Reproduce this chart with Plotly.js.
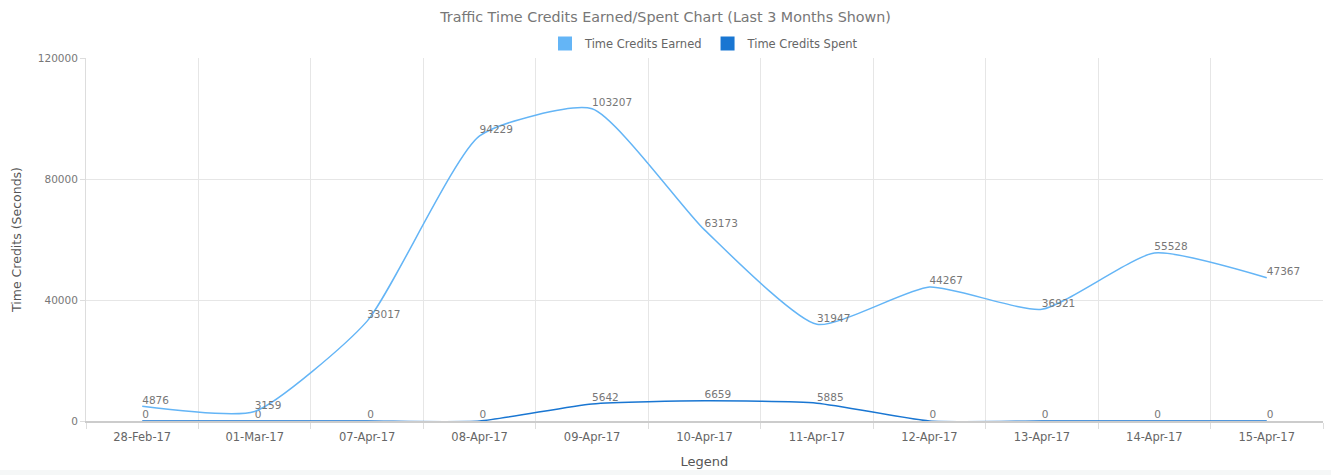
<!DOCTYPE html>
<html>
<head>
<meta charset="utf-8">
<script src="https://cdn.plot.ly/plotly-3.0.1.min.js"></script>
<style>
  html, body { margin: 0; padding: 0; background: #f5f7f7; }
  #chart { width: 1331px; height: 470px; background: #fff; }
</style>
</head>
<body>
<div id="chart"></div>
<script>
// Chart data
const dates = ['28-Feb-17', '01-Mar-17', '07-Apr-17', '08-Apr-17', '09-Apr-17', '10-Apr-17',
               '11-Apr-17', '12-Apr-17', '13-Apr-17', '14-Apr-17', '15-Apr-17'];
const earned = [4876, 3159, 33017, 94229, 103207, 63173, 31947, 44267, 36921, 55528, 47367];
const spent = [0, 0, 0, 0, 5642, 6659, 5885, 0, 0, 0, 0];

const earnedColor = '#64b5f6';
const spentColor = '#1976d2';
const font = 'DejaVu Sans, Verdana, sans-serif';

function lineTrace(values, color, name) {
    return {
        x: dates,
        y: values,
        type: 'scatter',
        mode: 'lines+text',
        name: name,
        showlegend: false,
        text: values.map(String),
        textposition: 'top right',
        textfont: { family: font, size: 10.5, color: '#777' },
        line: { color: color, width: 1.5, shape: 'spline', smoothing: 0.55 },
        cliponaxis: false,
        hoverinfo: 'x+y+name'
    };
}

// legend-only proxies so the legend shows square swatches
function legendTrace(color, name) {
    return {
        x: [null],
        y: [null],
        type: 'scatter',
        mode: 'markers',
        name: name,
        marker: { symbol: 'square', size: 14, color: color },
        hoverinfo: 'skip'
    };
}

const data = [
    lineTrace(spent, spentColor, 'Time Credits Spent'),
    lineTrace(earned, earnedColor, 'Time Credits Earned'),
    legendTrace(earnedColor, 'Time Credits Earned'),
    legendTrace(spentColor, 'Time Credits Spent')
];

const layout = {
    title: {
        text: 'Traffic Time Credits Earned/Spent Chart (Last 3 Months Shown)',
        font: { family: font, size: 14.3, color: '#777' },
        x: 0.5,
        xanchor: 'center',
        y: 0.963,
        yanchor: 'middle'
    },
    showlegend: true,
    legend: {
        orientation: 'h',
        x: 0.5,
        xanchor: 'center',
        y: 1.0,
        yanchor: 'bottom',
        font: { family: font, size: 11.5, color: '#666' },
        itemclick: false,
        itemwidth: 30,
        tracegroupgap: 0
    },
    xaxis: {
        type: 'category',
        title: { text: 'Legend', font: { family: font, size: 13, color: '#555' }, standoff: 14 },
        tickson: 'boundaries',
        ticks: 'outside',
        ticklen: 6,
        tickcolor: '#ddd',
        ticklabelstandoff: 4,
        showgrid: true,
        gridcolor: '#e6e6e6',
        showline: true,
        linecolor: '#ccc',
        linewidth: 2,
        tickfont: { family: font, size: 11.5, color: '#666' },
        range: [-0.5, 10.5],
        fixedrange: true
    },
    yaxis: {
        title: { text: 'Time Credits (Seconds)', font: { family: font, size: 12.5, color: '#555' }, standoff: 13 },
        range: [0, 120000],
        dtick: 40000,
        tickformat: 'd',
        ticks: 'outside',
        ticklen: 5,
        tickcolor: '#ddd',
        showline: true,
        linecolor: '#ddd',
        gridcolor: '#e6e6e6',
        zeroline: false,
        tickfont: { family: font, size: 10.5, color: '#777' },
        fixedrange: true
    },
    margin: { l: 86, r: 8, t: 58, b: 49 },
    plot_bgcolor: '#fff',
    paper_bgcolor: '#fff',
    hovermode: 'closest'
};

Plotly.newPlot('chart', data, layout, { displayModeBar: false, responsive: false });
</script>
</body>
</html>
